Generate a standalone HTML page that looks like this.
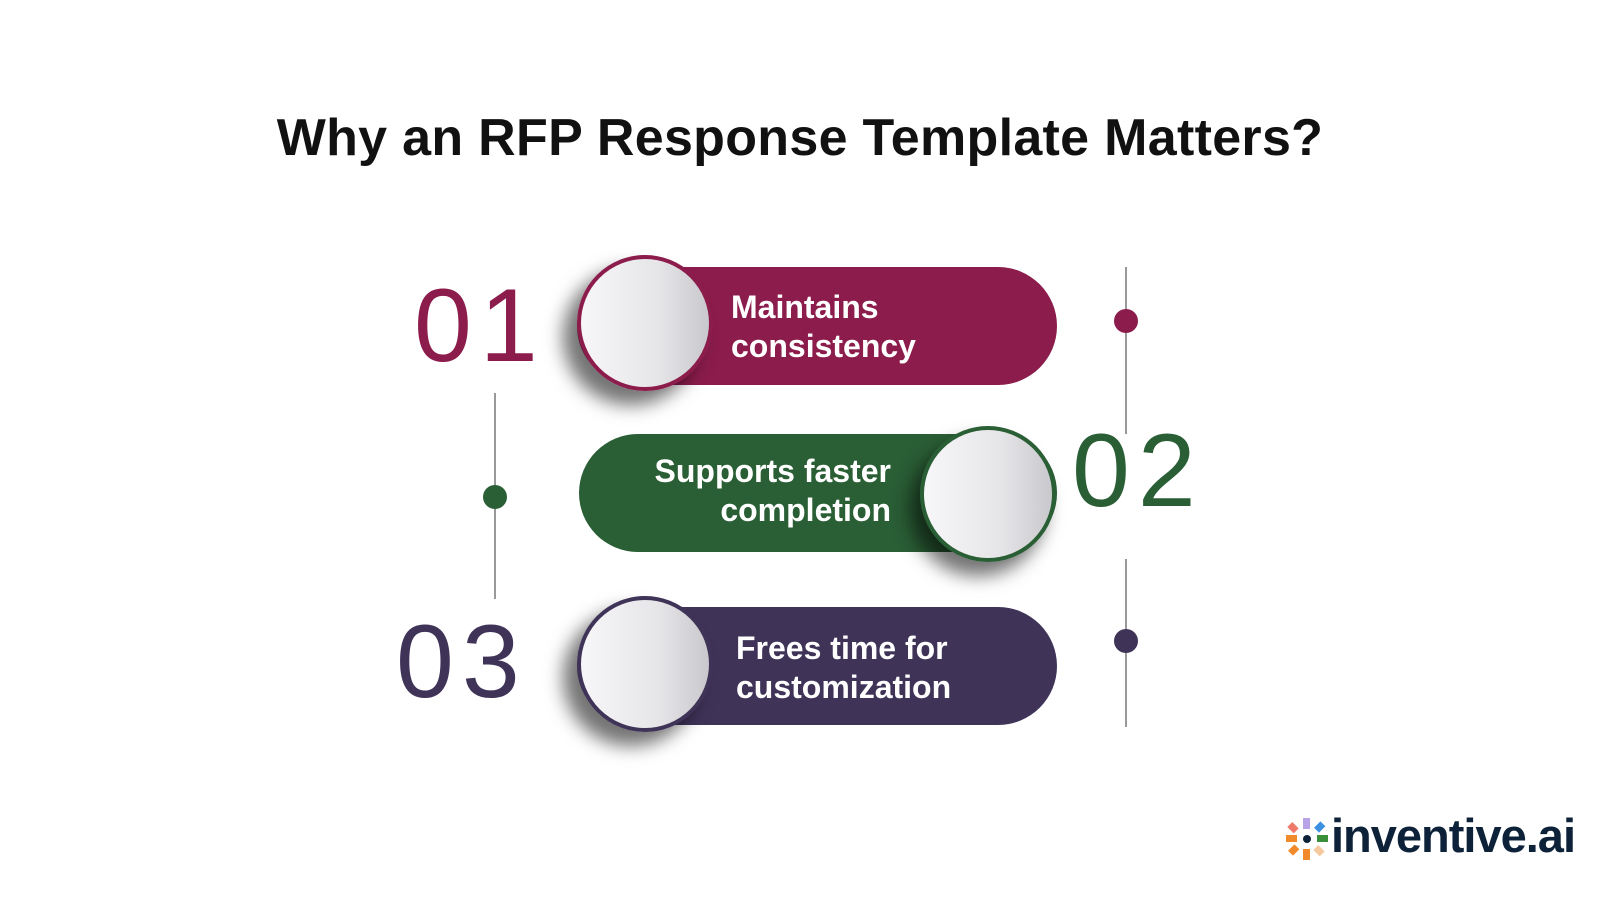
<!DOCTYPE html>
<html><head><style>
body{margin:0;width:1600px;height:900px;background:#fff;position:relative;overflow:hidden;font-family:"Liberation Sans",sans-serif}
.a{position:absolute}
.pill{position:absolute;height:118px;border-radius:59px}
.circ{position:absolute;width:128px;height:128px;border-radius:50%;border:4px solid;background:linear-gradient(90deg,#f7f6f8,#e6e5e8 60%,#c9c8cc);box-shadow:-14px 14px 18px rgba(0,0,0,.55)}
.num{position:absolute;font-size:104px;line-height:1;letter-spacing:8px}
.t{position:absolute;color:#fff;font-size:32px;font-weight:bold;line-height:39px}
.vl{position:absolute;width:2px;background:#999}
.dot{position:absolute;width:24px;height:24px;border-radius:50%}
</style></head><body>
<div class="a" style="left:0;width:1600px;top:108px;text-align:center;font-size:52px;font-weight:bold;color:#111;letter-spacing:0.3px">Why an RFP Response Template Matters?</div>

<div class="pill" style="left:577px;top:267px;width:480px;background:#8b1c4c"></div>
<div class="circ" style="left:577px;top:255px;border-color:#8b1c4c"></div>
<div class="num" style="left:414px;top:274px;color:#8b1c4c">01</div>
<div class="t" style="left:731px;top:288px">Maintains<br>consistency</div>

<div class="pill" style="left:579px;top:434px;width:478px;background:#2a5e35"></div>
<div class="circ" style="left:920px;top:426px;border-color:#2a5e35;box-shadow:-10px 14px 18px rgba(0,0,0,.55)"></div>
<div class="num" style="left:1072px;top:419px;color:#2a5e35">02</div>
<div class="t" style="left:600px;width:291px;text-align:right;top:452px">Supports faster<br>completion</div>

<div class="pill" style="left:577px;top:607px;width:480px;background:#3f3358"></div>
<div class="circ" style="left:577px;top:596px;border-color:#3f3358"></div>
<div class="num" style="left:396px;top:610px;color:#3f3358">03</div>
<div class="t" style="left:736px;top:629px">Frees time for<br>customization</div>

<div class="vl" style="left:494px;top:393px;height:206px"></div>
<div class="dot" style="left:483px;top:485px;background:#2a5e35"></div>
<div class="vl" style="left:1125px;top:267px;height:167px"></div>
<div class="dot" style="left:1114px;top:309px;background:#8b1c4c"></div>
<div class="vl" style="left:1125px;top:559px;height:168px"></div>
<div class="dot" style="left:1114px;top:629px;background:#3f3358"></div>

<svg class="a" style="left:1284px;top:816px" width="46" height="46" viewBox="0 0 46 46">
<rect x="19" y="2" width="7" height="11" fill="#b9a3e8"/>
<rect x="5" y="8" width="9" height="7" fill="#f07a6a" transform="rotate(45 9 11)"/>
<rect x="31" y="8" width="9" height="7" fill="#3d8fe0" transform="rotate(-45 35 11)"/>
<rect x="2" y="19" width="11" height="7" fill="#f08a2a"/>
<rect x="33" y="19" width="11" height="7" fill="#3a8f3a"/>
<rect x="5" y="31" width="9" height="7" fill="#f08a2a" transform="rotate(-45 9 34)"/>
<rect x="19" y="33" width="7" height="11" fill="#f08a2a"/>
<rect x="31" y="31" width="9" height="7" fill="#f6c9a0" transform="rotate(45 35 34)"/>
<circle cx="23" cy="23" r="4" fill="#0d2238"/>
</svg>
<div class="a" style="left:1331px;top:808px;font-size:47px;font-weight:bold;color:#0d2238;letter-spacing:-1px">inventive.ai</div>
</body></html>
